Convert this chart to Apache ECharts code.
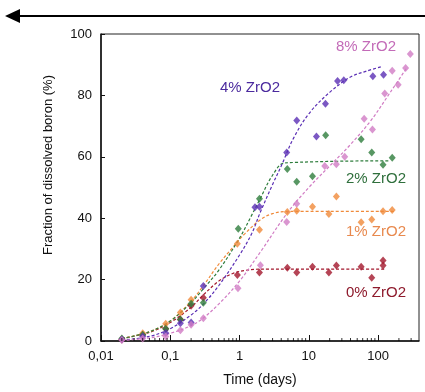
<!DOCTYPE html>
<html>
<head>
<meta charset="utf-8">
<script src="https://cdn.jsdelivr.net/npm/echarts@6/dist/echarts.min.js"></script>
<style>html,body{margin:0;padding:0;background:#fff}#c{width:425px;height:392px}</style>
</head>
<body>
<div id="c"></div>
<script>
// ---- data ----
const xTickLabels = ['0,01', '0,1', '1', '10', '100'];
const yTickLabels = ['0', '20', '40', '60', '80', '100'];
const seriesNames = ['0% ZrO2', '1% ZrO2', '2% ZrO2', '4% ZrO2', '8% ZrO2'];

// measured points (time in days, % dissolved boron)
const t0 = [0.02,0.04,0.086,0.14,0.2,0.3,0.93,1.94,4.9,6.7,11.3,19.5,25,57,81,118,118];
const v0 = [0.5,2,4,7,11.5,14.1,21.5,22.3,23.9,22.3,24.2,22.3,24.6,24.2,20.6,26.2,24.6];
const t1 = [0.02,0.04,0.086,0.14,0.2,0.93,1.94,4.9,6.7,11.3,19.5,25,57,81,118,160];
const v1 = [0.6,2.5,5.6,9.3,13.4,31.7,36.2,42,42.4,43.7,41.4,47.1,38.7,39.6,42.3,42.7];
const t2 = [0.02,0.04,0.086,0.14,0.2,0.3,0.96,1.94,4.9,6.7,11.3,17.5,57,81,118,160];
const v2 = [0.8,2,4,7,12.1,12.5,36.6,46.3,56,51.9,53.7,67,65.7,61.4,57.4,59.7];
const t4 = [0.02,0.04,0.086,0.14,0.2,0.3,1.67,1.94,4.8,6.7,12.9,17.4,26,32,84,120];
const v4 = [0.5,1.5,2.6,5.8,6,17.9,43.6,43.7,61.4,71.8,66.6,77.3,84.7,84.9,86.2,86.7];
const t8 = [0.02,0.04,0.086,0.14,0.2,0.3,0.95,2,4.8,6.7,17,25,33,63,83,125,160,195,250,292];
const v8 = [0.3,0.8,1.5,3.5,5.3,7.4,17.2,24.7,38.8,44.7,57,57.6,60,72.4,68.9,80.6,88,83.5,88.9,93.5];

// fitted curves (dashed)
const ft0 = [0.02,0.05,0.1,0.2,0.3,0.5,0.8,1.2,2,130];
const fv0 = [0.8,2.8,6,11,15,19.5,22,23,23.4,23.4];
const ft1 = [0.02,0.05,0.1,0.2,0.3,0.5,0.8,1.2,2,3,5,170];
const fv1 = [0.8,3,6.5,13,18,25,30.5,35,39.5,41.5,42.2,42.2];
const ft2 = [0.02,0.05,0.1,0.2,0.3,0.5,1,1.5,2,3,4.5,150];
const fv2 = [0.8,3,6.5,12.5,17,23,33.5,41,46.5,54,58,58.7];
const ft4 = [0.02,0.05,0.1,0.2,0.3,0.5,1,1.5,2,3,4,6,10,20,40,70,115];
const fv4 = [0.3,1.5,4,8.5,12,18,28,35,42,51,57,66,74,81,86,88,89.4];
const ft8 = [0.02,0.05,0.1,0.2,0.3,0.5,1,2,5,10,20,40,80,150,260];
const fv8 = [0.2,1,2.5,5,7.5,12,19.5,29,42,50,57,64,72,81,89];

// ---- styling ----
const colors = ['#a3172c', '#f08a3a', '#2e7d3c', '#5a2eb4', '#d17cc4'];
const labelColors = ['#8e1a2c', '#e8894e', '#2f6f3c', '#4b2a9e', '#c36bb8'];
const X_MIN = 0.01, X_MAX = 390;

const pts = [[t0,v0],[t1,v1],[t2,v2],[t4,v4],[t8,v8]];
const fits = [[ft0,fv0],[ft1,fv1],[ft2,fv2],[ft4,fv4],[ft8,fv8]];
const zip = (a, b) => a.map((x, i) => [x, b[i]]);

// minor tick positions on log axis (2..9 x 10^k)
const minorTicks = [];
for (let k = -2; k <= 2; k++) {
  for (let m = 2; m <= 9; m++) {
    const v = m * Math.pow(10, k);
    if (v < X_MAX) minorTicks.push([v, 0]);
  }
}

const series = [];
fits.forEach((f, i) => {
  series.push({
    name: seriesNames[i] + ' fit', type: 'line', data: zip(f[0], f[1]),
    smooth: 0.35, showSymbol: false, symbol: 'none', silent: true, z: 2,
    lineStyle: { color: colors[i], width: 1.2, type: [3, 2] }
  });
});
pts.forEach((p, i) => {
  series.push({
    name: seriesNames[i], type: 'scatter', data: zip(p[0], p[1]),
    symbol: 'diamond', symbolSize: [7, 8], z: 3,
    itemStyle: { color: colors[i] }
  });
});
series.push({
  name: 'minor ticks', type: 'scatter', data: minorTicks, silent: true,
  symbol: 'rect', symbolSize: [1, 3], symbolOffset: [0, -1.5], clip: false, z: 5,
  itemStyle: { color: '#000' }
});

const labelPos = [[376, 293], [376, 232], [376, 179], [250, 88], [366, 47]];
const graphics = [
  { type: 'line', shape: { x1: 18, y1: 16, x2: 425, y2: 16 }, style: { stroke: '#000', lineWidth: 2 } },
  { type: 'polygon', shape: { points: [[5, 16], [20, 9], [20, 23]] }, style: { fill: '#000' } }
];
seriesNames.forEach((n, i) => {
  graphics.push({
    type: 'text', x: labelPos[i][0], y: labelPos[i][1],
    style: { text: n, fill: labelColors[i], font: '15px "Liberation Sans", Arial, sans-serif',
             align: 'center', verticalAlign: 'middle' }
  });
});

const chart = echarts.init(document.getElementById('c'), null, { renderer: 'canvas' });
chart.setOption({
  animation: false,
  backgroundColor: '#fff',
  grid: { left: 101, right: 6, top: 34, bottom: 49, show: true, borderColor: '#222', borderWidth: 1 },
  xAxis: {
    type: 'log', logBase: 10, min: X_MIN, max: X_MAX,
    name: 'Time (days)', nameLocation: 'middle', nameGap: 32,
    nameTextStyle: { fontSize: 14, color: '#111', fontFamily: 'Liberation Sans' },
    axisLine: { lineStyle: { color: '#111', width: 1.5 } },
    axisTick: { inside: true, length: 6, lineStyle: { color: '#111' } },
    axisLabel: {
      fontSize: 13, color: '#111', fontFamily: 'Liberation Sans', margin: 9,
      showMaxLabel: false,
      formatter: v => xTickLabels[Math.round(Math.log10(v)) + 2] || ''
    },
    splitLine: { show: false }
  },
  yAxis: {
    type: 'value', min: 0, max: 100, interval: 20,
    name: 'Fraction of dissolved boron (%)', nameLocation: 'middle', nameGap: 46,
    nameTextStyle: { fontSize: 13, color: '#111', fontFamily: 'Liberation Sans', padding: [0, 0, 0, 45] },
    axisLine: { show: true, lineStyle: { color: '#111', width: 1.5 } },
    axisTick: { show: true, inside: true, length: 4, lineStyle: { color: '#111' } },
    axisLabel: {
      fontSize: 13, color: '#111', fontFamily: 'Liberation Sans', margin: 9,
      formatter: v => yTickLabels[Math.round(v / 20)]
    },
    splitLine: { show: false }
  },
  series: series,
  graphic: graphics
});
</script>
</body>
</html>
